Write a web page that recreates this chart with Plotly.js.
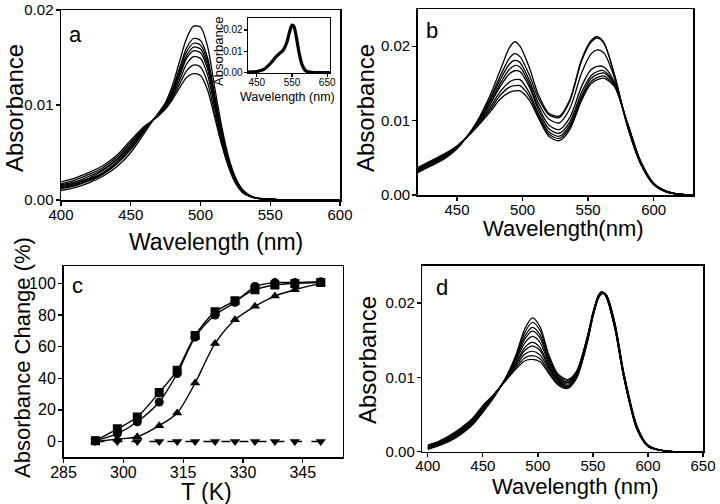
<!DOCTYPE html>
<html>
<head>
<meta charset="utf-8">
<script src="https://cdn.plot.ly/plotly-3.0.1.min.js"></script>
<style>html,body{margin:0;padding:0;background:#fff}#chart{width:720px;height:504px}</style>
</head>
<body>
<div id="chart"></div>
<script>
// ---------- Panel a ----------
const wlA = [400,410,420,430,440,450,460,465,470,475,480,485,490,495,500,505,510,515,520,525,530,535,540,550,560,580,600];
const a1 = [.0010,.0013,.0018,.0025,.0035,.0050,.0071,.0082,.0092,.0103,.0121,.0146,.0170,.0183,.0182,.0162,.0120,.0079,.0046,.0024,.0011,.0005,.0002,.0001,0,0,0];
const a2 = [.0012,.0015,.0020,.0027,.0038,.0053,.0073,.0082,.0091,.0101,.0117,.0139,.0160,.0170,.0168,.0150,.0112,.0074,.0043,.0023,.0011,.0005,.0002,.0001,0,0,0];
const a3 = [.0013,.0016,.0021,.0028,.0039,.0054,.0074,.0083,.0091,.0100,.0115,.0136,.0156,.0165,.0163,.0146,.0109,.0072,.0042,.0022,.0010,.0005,.0002,.0001,0,0,0];
const a4 = [.0014,.0017,.0022,.0029,.0040,.0056,.0075,.0083,.0090,.0099,.0113,.0133,.0152,.0161,.0159,.0142,.0106,.0070,.0041,.0022,.0010,.0005,.0002,.0001,0,0,0];
const a5 = [.0015,.0018,.0023,.0031,.0042,.0057,.0075,.0083,.0090,.0099,.0112,.0130,.0149,.0157,.0155,.0138,.0103,.0068,.0040,.0021,.0010,.0004,.0002,.0001,0,0,0];
const a6 = [.0016,.0019,.0025,.0032,.0043,.0059,.0076,.0083,.0090,.0098,.0110,.0126,.0143,.0151,.0149,.0132,.0099,.0065,.0038,.0020,.0009,.0004,.0002,.0001,0,0,0];
const a7 = [.0017,.0021,.0027,.0034,.0045,.0061,.0077,.0083,.0089,.0097,.0108,.0122,.0136,.0142,.0140,.0124,.0093,.0062,.0037,.0019,.0009,.0004,.0002,.0001,0,0,0];
const a8 = [.0019,.0023,.0029,.0036,.0047,.0063,.0078,.0083,.0089,.0096,.0106,.0118,.0129,.0133,.0131,.0116,.0088,.0059,.0035,.0018,.0008,.0004,.0002,.0001,0,0,0];

// ---------- Inset ----------
const wlIn = [425,450,470,490,505,515,525,535,543,550,555,562,570,578,588,600,620,658];
const absIn = [.0002,.0005,.0015,.0045,.0075,.0090,.0105,.0140,.0190,.0222,.0218,.0170,.0095,.0040,.0010,.0002,0,0];

// ---------- Panel b ----------
const wlB = [420,430,440,450,457,465,475,483,490,494,498,505,512,520,528,536,545,552,557,562,570,580,590,600,610,620,630];
const b1 = [.0030,.0039,.0048,.0062,.0077,.0098,.0133,.0168,.0198,.0206,.0200,.0172,.0135,.0110,.0106,.0128,.0182,.0207,.0213,.0205,.0162,.0092,.0042,.0014,.0004,.0001,0];
const b2 = [.0031,.0040,.0049,.0063,.0077,.0097,.0129,.0160,.0184,.0190,.0186,.0162,.0130,.0108,.0104,.0126,.0180,.0205,.0211,.0204,.0162,.0093,.0042,.0014,.0004,.0001,0];
const b3 = [.0032,.0041,.0050,.0063,.0077,.0096,.0126,.0155,.0176,.0181,.0178,.0155,.0124,.0102,.0097,.0116,.0164,.0189,.0195,.0191,.0158,.0093,.0043,.0014,.0004,.0001,0];
const b4 = [.0033,.0042,.0051,.0064,.0077,.0095,.0123,.0150,.0169,.0174,.0172,.0150,.0119,.0094,.0088,.0104,.0146,.0168,.0173,.0172,.0152,.0094,.0043,.0015,.0004,.0001,0];
const b5 = [.0034,.0043,.0052,.0065,.0077,.0094,.0121,.0146,.0163,.0167,.0166,.0146,.0115,.0089,.0083,.0098,.0138,.0160,.0166,.0167,.0150,.0095,.0044,.0015,.0005,.0001,0];
const b6 = [.0035,.0044,.0053,.0065,.0077,.0093,.0117,.0139,.0152,.0155,.0155,.0138,.0110,.0085,.0079,.0094,.0133,.0156,.0162,.0164,.0149,.0096,.0045,.0015,.0005,.0001,0];
const b7 = [.0036,.0045,.0054,.0066,.0077,.0092,.0114,.0134,.0145,.0147,.0147,.0133,.0107,.0082,.0076,.0091,.0130,.0152,.0158,.0160,.0147,.0096,.0045,.0016,.0005,.0001,0];
const b8 = [.0037,.0046,.0055,.0066,.0077,.0091,.0111,.0129,.0138,.0140,.0140,.0128,.0104,.0079,.0073,.0088,.0127,.0149,.0155,.0157,.0146,.0097,.0046,.0016,.0005,.0001,0];

// ---------- Panel c ----------
const tempK = [293,298.5,303.5,309,313.5,318,323,328,333,338,343,349.5];
const squares = [0.5,8,15.5,31,45,67,82,89,96,99,100,100.5];
const circles = [0.5,5,12.5,25,43,66,80,88,98,100.5,100.5,101];
const trianglesUp = [0,1.5,3,10,18,37,62,77,85.5,92,96,100];
const trianglesDown = [0,0,0,0,0,0,0,0,0,0,0,0];

// ---------- Panel d ----------
const wlD = [400,410,420,430,440,450,460,470,480,488,495,502,510,518,527,535,545,550,555,558,562,570,578,590,600,615,650];
const d1 = [.0003,.0008,.0014,.0023,.0035,.0053,.0073,.0097,.0130,.0165,.0180,.0168,.0130,.0105,.0097,.0108,.0155,.0187,.0210,.0215,.0208,.0165,.0100,.0030,.0007,.0001,0];
const d2 = [.0004,.0009,.0015,.0024,.0036,.0054,.0073,.0097,.0128,.0160,.0174,.0163,.0127,.0103,.0096,.0107,.0155,.0187,.0210,.0215,.0208,.0165,.0100,.0030,.0007,.0001,0];
const d3 = [.0004,.0009,.0016,.0025,.0037,.0055,.0074,.0097,.0126,.0155,.0167,.0157,.0124,.0101,.0094,.0106,.0154,.0186,.0210,.0215,.0209,.0166,.0101,.0031,.0007,.0001,0];
const d4 = [.0005,.0010,.0017,.0026,.0038,.0056,.0074,.0097,.0124,.0151,.0162,.0153,.0121,.0100,.0093,.0105,.0153,.0186,.0210,.0215,.0209,.0167,.0101,.0031,.0007,.0001,0];
const d5 = [.0005,.0010,.0017,.0027,.0039,.0057,.0075,.0097,.0122,.0146,.0155,.0147,.0118,.0098,.0091,.0104,.0152,.0185,.0209,.0215,.0210,.0168,.0102,.0032,.0008,.0001,0];
const d6 = [.0006,.0011,.0018,.0028,.0040,.0058,.0075,.0096,.0119,.0140,.0147,.0140,.0115,.0096,.0089,.0102,.0151,.0184,.0209,.0214,.0210,.0169,.0103,.0032,.0008,.0001,0];
const d7 = [.0006,.0012,.0019,.0029,.0041,.0059,.0076,.0096,.0117,.0136,.0142,.0136,.0113,.0095,.0088,.0101,.0150,.0184,.0208,.0214,.0211,.0170,.0104,.0033,.0008,.0001,0];
const d8 = [.0007,.0012,.0020,.0030,.0042,.0060,.0076,.0095,.0115,.0131,.0135,.0130,.0110,.0093,.0087,.0100,.0149,.0183,.0208,.0214,.0211,.0171,.0105,.0033,.0008,.0001,0];
const d9 = [.0008,.0013,.0021,.0031,.0043,.0061,.0077,.0095,.0113,.0126,.0129,.0125,.0107,.0091,.0086,.0099,.0148,.0182,.0207,.0213,.0211,.0172,.0106,.0034,.0009,.0001,0];
const d10 = [.0009,.0014,.0022,.0032,.0044,.0062,.0077,.0094,.0111,.0122,.0124,.0121,.0105,.0090,.0085,.0098,.0147,.0181,.0206,.0212,.0211,.0173,.0107,.0035,.0009,.0001,0];

// ---------- Tick labels ----------
const tickA = [400,450,500,550,600];
const tickB = [450,500,550,600];
const tickC = [285,300,315,330,345];
const tickCy = [0,20,40,60,80,100];
const tickD = [400,450,500,550,600,650];
const tickAbs = [0,0.01,0.02];
const tickIn = [450,550,650];

const FONT = 'Liberation Sans, Arial, Helvetica, sans-serif';
const traces = [];
function spec(x, ys, xa, ya, w) {
  ys.forEach(y => traces.push({x: x, y: y, xaxis: xa, yaxis: ya, type: 'scatter', mode: 'lines',
    line: {color: '#000', width: w, shape: 'spline', smoothing: 0.8}, showlegend: false, hoverinfo: 'skip'}));
}
spec(wlA, [a1,a2,a3,a4,a5,a6,a7,a8], 'x', 'y', 1.3);
spec(wlB, [b1,b2,b3,b4,b5,b6,b7,b8], 'x2', 'y2', 1.3);
spec(wlD, [d1,d2,d3,d4,d5,d6,d7,d8,d9,d10], 'x4', 'y4', 1.2);
spec(wlIn, [absIn], 'x5', 'y5', 3.2);

function pts(y, sym, dash) {
  traces.push({x: tempK, y: y, xaxis: 'x3', yaxis: 'y3', type: 'scatter', mode: 'lines+markers',
    line: {color: '#000', width: 1.4, shape: 'spline', smoothing: 0.8, dash: dash || 'solid'},
    marker: {symbol: sym, size: 9, color: '#000'}, showlegend: false, hoverinfo: 'skip'});
}
pts(trianglesDown, 'triangle-down', 'dash');
pts(trianglesUp, 'triangle-up');
pts(circles, 'circle');
pts(squares, 'square');

function ax(extra) {
  return Object.assign({
    showline: true, linecolor: '#000', linewidth: 1.5, mirror: true,
    ticks: 'outside', ticklen: 4, tickwidth: 1.3, tickcolor: '#000',
    showgrid: false, zeroline: false, automargin: false, ticklabelstandoff: -4,
    tickfont: {family: FONT, size: 15, color: '#000'}
  }, extra);
}
const W = 720, H = 504;
const px = (a, b) => [a / W, b / W];
const py = (top, bot) => [1 - bot / H, 1 - top / H];

const layout = {
  width: W, height: H, margin: {l: 0, r: 0, t: 0, b: 0},
  paper_bgcolor: '#fff', plot_bgcolor: 'rgba(0,0,0,0)',
  font: {family: FONT, color: '#000'}, showlegend: false,
  xaxis: ax({domain: px(61, 340), anchor: 'y', range: [400, 600], tickvals: tickA}),
  yaxis: ax({domain: py(10, 200), anchor: 'x', range: [0, 0.02], tickvals: tickAbs, tickformat: '.2f', ticklabelstandoff: -1}),
  xaxis2: ax({domain: px(417.7, 693), anchor: 'y2', range: [420, 630], tickvals: tickB}),
  yaxis2: ax({domain: py(9, 195), anchor: 'x2', range: [0, 0.025], tickvals: tickAbs, tickformat: '.2f', ticklabelstandoff: -1}),
  xaxis3: ax({domain: px(63.5, 342.7), anchor: 'y3', range: [285, 355], tickvals: tickC,
    tickfont: {family: FONT, size: 16, color: '#000'}}),
  yaxis3: ax({domain: py(266, 457.3), anchor: 'x3', range: [-10, 111], tickvals: tickCy, ticklabelstandoff: -1,
    tickfont: {family: FONT, size: 16, color: '#000'}}),
  xaxis4: ax({domain: px(422.3, 703), anchor: 'y4', range: [395, 650], tickvals: tickD}),
  yaxis4: ax({domain: py(265.7, 451.7), anchor: 'x4', range: [0, 0.025], tickvals: tickAbs, tickformat: '.2f', ticklabelstandoff: -1}),
  xaxis5: ax({domain: px(248, 330), anchor: 'y5', range: [425, 658], tickvals: tickIn, ticklen: 3, linewidth: 1.3,
    ticklabelstandoff: -3, tickfont: {family: FONT, size: 10, color: '#000'}}),
  yaxis5: ax({domain: py(18, 73), anchor: 'x5', range: [-0.0002, 0.0256], tickvals: tickAbs, tickformat: '.2f', ticklen: 3, linewidth: 1.3,
    ticklabelstandoff: -1, tickfont: {family: FONT, size: 10, color: '#000'}}),
  annotations: []
};

// axis titles and panel letters as positioned text
const notes = [
  ['Wavelength (nm)', 216, 242, 23, 0],
  ['Absorbance', 14, 108, 24, -90],
  ['Wavelength(nm)', 563, 229, 22, 0],
  ['Absorbance', 365, 108, 24, -90],
  ['T (K)', 206, 492, 23, 0],
  ['Absorbance Change (%)', 22, 358, 22, -90],
  ['Wavelength (nm)', 575, 486, 22, 0],
  ['Absorbance', 367, 360, 24, -90],
  ['Wavelength (nm)', 287, 97, 12.5, 0],
  ['Absorbance', 219, 51, 13, -90],
  ['a', 75, 35, 22, 0],
  ['b', 432, 30, 22, 0],
  ['c', 77, 285, 22, 0],
  ['d', 442, 287, 22, 0]
];
notes.forEach(n => layout.annotations.push({text: n[0], x: n[1] / W, y: 1 - n[2] / H,
  xref: 'paper', yref: 'paper', showarrow: false, xanchor: 'center', yanchor: 'middle',
  textangle: n[4], borderpad: 0, font: {family: FONT, size: n[3], color: '#000'}}));

Plotly.newPlot('chart', traces, layout, {staticPlot: true, displayModeBar: false});
</script>
</body>
</html>
